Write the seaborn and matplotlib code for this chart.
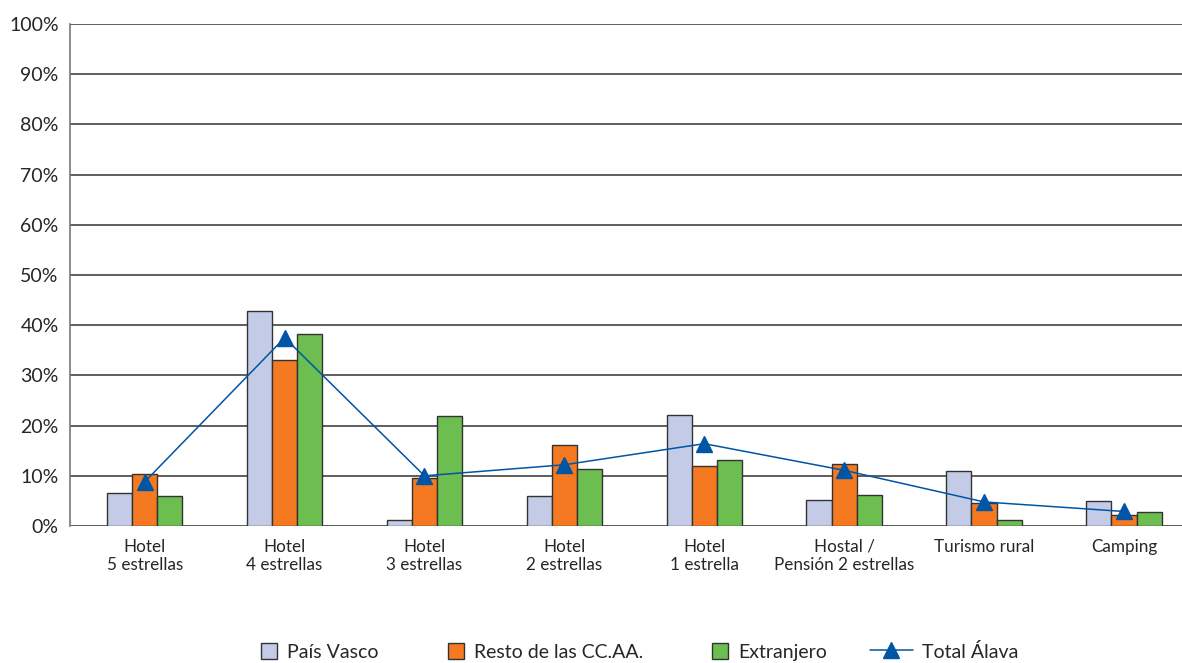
import matplotlib
matplotlib.use("Agg")
import matplotlib.pyplot as plt
import seaborn as sns
import pandas as pd
import numpy as np
from matplotlib.lines import Line2D
from matplotlib.patches import Patch, Rectangle
from matplotlib.legend_handler import HandlerPatch

sns.set_style("white")
plt.rcParams["font.family"] = ["Lato", "DejaVu Sans"]

categories = [
    "Hotel\n5 estrellas",
    "Hotel\n4 estrellas",
    "Hotel\n3 estrellas",
    "Hotel\n2 estrellas",
    "Hotel\n1 estrella",
    "Hostal /\nPensión 2 estrellas",
    "Turismo rural",
    "Camping",
]
pais_vasco = [6.5, 42.9, 1.2, 6.0, 22.1, 5.2, 11.0, 5.0]
resto_ccaa = [10.3, 33.1, 9.5, 16.1, 11.9, 12.3, 4.6, 2.1]
extranjero = [5.9, 38.2, 22.0, 11.3, 13.1, 6.2, 1.2, 2.7]
total_alava = [8.8, 37.5, 10.0, 12.2, 16.4, 11.1, 4.8, 2.9]

series = ["País Vasco", "Resto de las CC.AA.", "Extranjero"]
palette = {"País Vasco": "#C3CBE6", "Resto de las CC.AA.": "#F47920", "Extranjero": "#6BBE4F"}
line_color = "#0055A4"

df = pd.DataFrame({
    "cat": categories * 3,
    "serie": [s for s in series for _ in categories],
    "valor": pais_vasco + resto_ccaa + extranjero,
})

fig = plt.figure(figsize=(11.82, 6.63), dpi=100)
ax = fig.add_axes([0.059, 0.2066, 0.941, 0.7572])

sns.barplot(data=df, x="cat", y="valor", hue="serie", hue_order=series,
            palette=palette, width=0.54, edgecolor="#333333", linewidth=1.0,
            saturation=1, ax=ax, legend=False, zorder=3)

ax.plot(np.arange(len(categories)), total_alava, color=line_color, lw=1.1,
        marker="^", markersize=11, zorder=5)

ax.set_ylim(0, 100)
ax.set_xlim(-0.536, 7.415)
ax.set_yticks(np.arange(0, 101, 10))
ax.set_yticklabels([f"{v}%" for v in range(0, 101, 10)], fontsize=14)
ax.yaxis.grid(True, color="#333333", lw=1.1, zorder=0)
ax.set_axisbelow(True)
ax.tick_params(axis="y", length=6, width=1, color="#666666", pad=2)
ax.tick_params(axis="x", length=0, pad=9, labelsize=12.3)
ax.set_xlabel("")
ax.set_ylabel("")
for s in ["top", "right", "bottom"]:
    ax.spines[s].set_visible(False)
ax.spines["left"].set_color("#777777")
ax.spines["left"].set_linewidth(1.2)


def square_patch(legend, orig_handle, xdescent, ydescent, width, height, fontsize):
    side = height
    return Rectangle((-xdescent + width - side, -ydescent), side, side)


handles = [Patch(facecolor=palette[s], edgecolor="#333333", label=s) for s in series]
handles.append(Line2D([0], [0], color=line_color, lw=1.1, marker="^", markersize=11,
                      label="Total Álava"))
fig.legend(handles=handles, loc="center", bbox_to_anchor=(0.530, 0.017), ncol=4,
           frameon=False, fontsize=14, columnspacing=2.2, handlelength=2.2,
           handleheight=0.9, handletextpad=0.5,
           handler_map={Patch: HandlerPatch(patch_func=square_patch)})

fig.savefig("out.png", dpi=100)
